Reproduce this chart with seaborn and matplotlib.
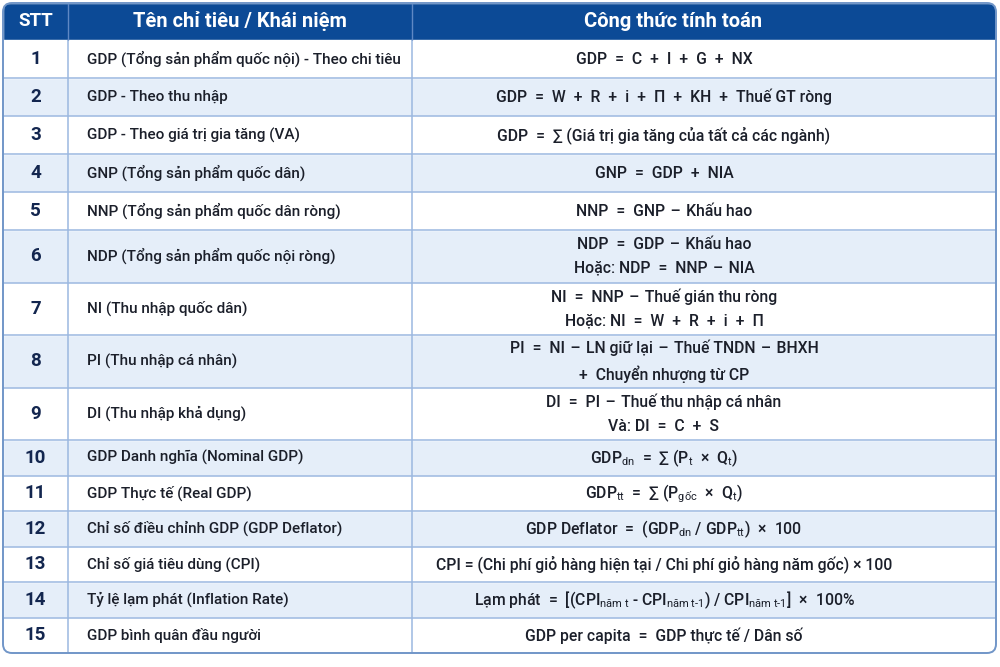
import numpy as np
import matplotlib.pyplot as plt
import seaborn as sns
from matplotlib.patches import FancyBboxPatch

# --- Dữ liệu bảng ---
HEADERS = ["STT", "Tên chỉ tiêu / Khái niệm", "Công thức tính toán"]
STT = [str(i) for i in range(1, 16)]
CHI_TIEU = [
    "GDP (Tổng sản phẩm quốc nội) - Theo chi tiêu",
    "GDP - Theo thu nhập",
    "GDP - Theo giá trị gia tăng (VA)",
    "GNP (Tổng sản phẩm quốc dân)",
    "NNP (Tổng sản phẩm quốc dân ròng)",
    "NDP (Tổng sản phẩm quốc nội ròng)",
    "NI (Thu nhập quốc dân)",
    "PI (Thu nhập cá nhân)",
    "DI (Thu nhập khả dụng)",
    "GDP Danh nghĩa (Nominal GDP)",
    "GDP Thực tế (Real GDP)",
    "Chỉ số điều chỉnh GDP (GDP Deflator)",
    "Chỉ số giá tiêu dùng (CPI)",
    "Tỷ lệ lạm phát (Inflation Rate)",
    "GDP bình quân đầu người",
]
CONG_THUC = [
    "GDP = C + I + G + NX",
    "GDP = W + R + i + Π + KH + Thuế GT ròng",
    "GDP = ∑ (Giá trị gia tăng của tất cả các ngành)",
    "GNP = GDP + NIA",
    "NNP = GNP – Khấu hao",
    "NDP = GDP – Khấu hao\nHoặc: NDP = NNP – NIA",
    "NI = NNP – Thuế gián thu ròng\nHoặc: NI = W + R + i + Π",
    "PI = NI – LN giữ lại – Thuế TNDN – BHXH\n+ Chuyển nhượng từ CP",
    "DI = PI – Thuế thu nhập cá nhân\nVà: DI = C + S",
    r"GDP$_{\mathrm{dn}}$ = ∑ (P$_{\mathrm{t}}$ × Q$_{\mathrm{t}}$)",
    r"GDP$_{\mathrm{tt}}$ = ∑ (P$_{\mathrm{gốc}}$ × Q$_{\mathrm{t}}$)",
    r"GDP Deflator = (GDP$_{\mathrm{dn}}$ / GDP$_{\mathrm{tt}}$) × 100",
    "CPI = (Chi phí giỏ hàng hiện tại / Chi phí giỏ hàng năm gốc) × 100",
    r"Lạm phát = [(CPI$_{\text{năm t}}$ - CPI$_{\text{năm t-1}}$) / CPI$_{\text{năm t-1}}$] × 100%",
    "GDP per capita = GDP thực tế / Dân số",
]

# --- Bố cục (pixel) ---
FIG_W, FIG_H = 1000, 667
COL_X = [3, 68, 412, 996]
HEADER_TOP, HEADER_BOT = 3, 40
ROW_H = [38] * 5 + [52.5] * 4 + [35.5] * 6
FORMULA_X = 664
EN = "\u2002"   # khoảng trắng rộng quanh = + ×
MID = "\u2004"  # khoảng trắng vừa quanh dấu –
TIGHT_ROWS = {12}  # dòng CPI giữ khoảng cách bình thường

# --- Màu ---
HEADER_BLUE = "#0c4a96"
STRIPE_BLUE = "#e5eef9"
GRID_BLUE = "#9bb8e0"
BORDER_BLUE = "#7196c8"
NAVY = "#13264f"
TEXT = "#1b1f2a"


def widen(s):
    # nới khoảng cách quanh các toán tử như trong ảnh gốc
    for op in ["=", "+", "×"]:
        s = s.replace(f" {op} ", f"{EN}{op}{EN}")
    s = s.replace(" – ", f"{MID}–{MID}")
    return s.replace("\n+ ", f"\n+{EN}")


sns.set_theme(style="white")
plt.rcParams['font.family'] = ['Roboto', 'DejaVu Sans']
plt.rcParams['mathtext.fontset'] = 'custom'
plt.rcParams['mathtext.rm'] = 'Roboto'
plt.rcParams['mathtext.it'] = 'Roboto:italic'
plt.rcParams['mathtext.bf'] = 'Roboto:bold'

fig = plt.figure(figsize=(10, 6.67), dpi=100)
ax = fig.add_axes([0, 0, 1, 1])
ax.set_xlim(0, FIG_W)
ax.set_ylim(FIG_H, 0)
ax.axis('off')

edges = HEADER_BOT + np.concatenate([[0], np.cumsum(ROW_H)])
centers = (edges[:-1] + edges[1:]) / 2
bottom = edges[-1]
table_w = COL_X[-1] - COL_X[0]

# khung bo góc tròn, dùng làm clip cho nền
frame = FancyBboxPatch((COL_X[0], HEADER_TOP), table_w, bottom - HEADER_TOP,
                       boxstyle="round,pad=0,rounding_size=9",
                       fc='none', ec=BORDER_BLUE, lw=1.4, zorder=5)
ax.add_patch(frame)

stripe = ["white" if i % 2 == 0 else STRIPE_BLUE for i in range(len(STT))]
bars = ax.barh(centers, table_w, height=ROW_H, left=COL_X[0],
               color=stripe, zorder=1)
hdr = ax.barh((HEADER_TOP + HEADER_BOT) / 2, table_w,
              height=HEADER_BOT - HEADER_TOP, left=COL_X[0],
              color=HEADER_BLUE, zorder=1)
for b in list(bars) + list(hdr):
    b.set_clip_path(frame)

# đường lưới
ax.hlines(edges[1:-1], COL_X[0], COL_X[-1], color=GRID_BLUE, lw=1.1, zorder=2)
ax.vlines(COL_X[1:3], HEADER_BOT, bottom, color=GRID_BLUE, lw=1.1, zorder=2)
ax.vlines(COL_X[1:3], HEADER_TOP, HEADER_BOT, color="#5f88c4", lw=1.0, zorder=2)

# tiêu đề
hy = (HEADER_TOP + HEADER_BOT) / 2
head_x = [(COL_X[0] + COL_X[1]) / 2, (COL_X[1] + COL_X[2]) / 2, FORMULA_X + 9]
head_fs = [13.5, 14.5, 14.5]
for x, h, fs in zip(head_x, HEADERS, head_fs):
    ax.text(x, hy, h, ha='center', va='center', color='white',
            fontsize=fs, fontweight='bold', zorder=6)

# nội dung
for i, (y, n, name, f) in enumerate(zip(centers, STT, CHI_TIEU, CONG_THUC)):
    ax.text((COL_X[0] + COL_X[1]) / 2, y, n, ha='center', va='center',
            color=NAVY, fontsize=13.5, fontweight='bold', zorder=6)
    ax.text(COL_X[1] + 19, y, name, ha='left', va='center',
            color=TEXT, fontsize=11, fontweight='medium', zorder=6)
    label = f if i in TIGHT_ROWS else widen(f)
    ax.text(FORMULA_X, y, label, ha='center', va='center',
            multialignment='center', color=TEXT, fontsize=11.3,
            fontweight='medium', linespacing=1.7, zorder=6)

fig.savefig("out.png", dpi=100, facecolor='white')
